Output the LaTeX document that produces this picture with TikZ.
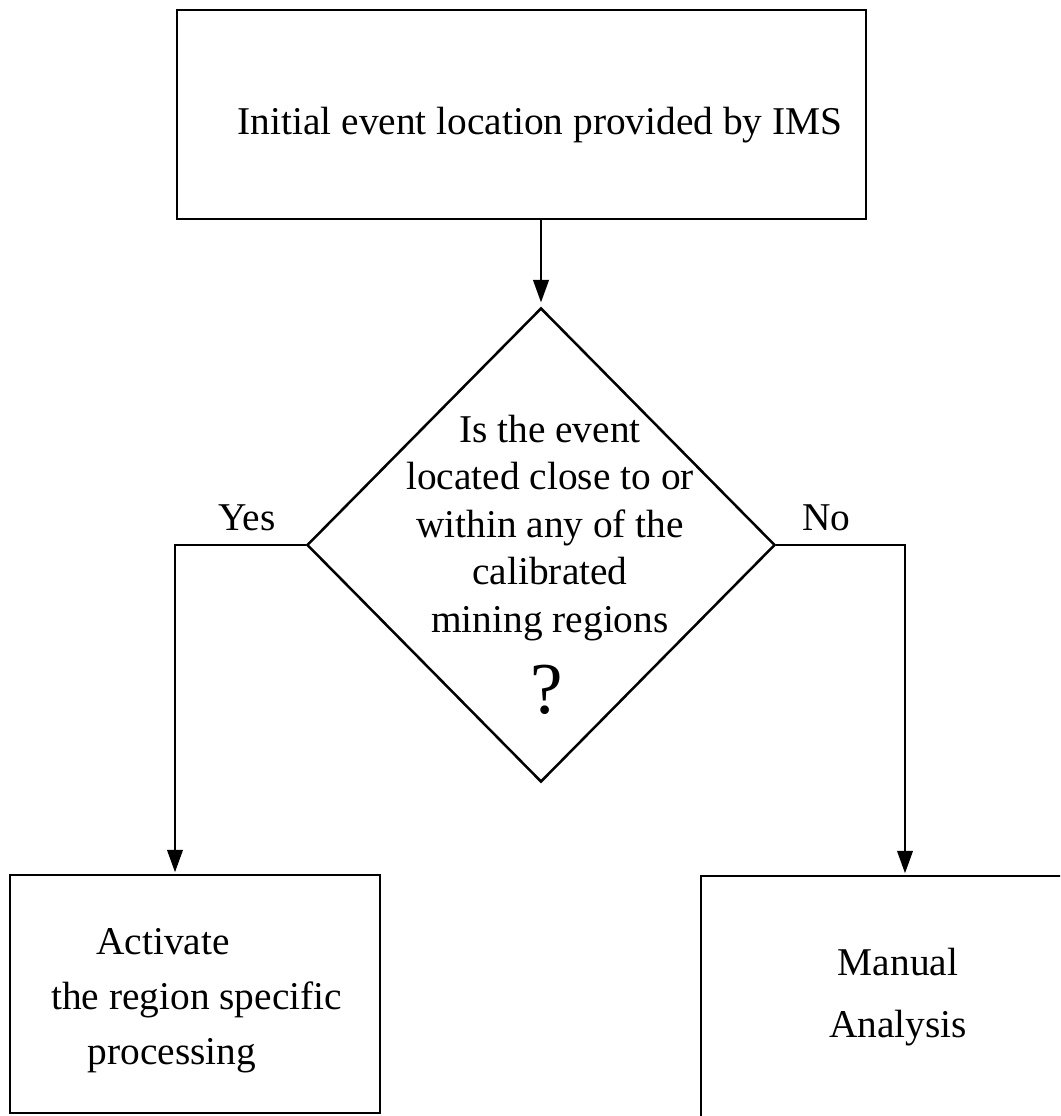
\documentclass[tikz,border=0pt]{standalone}
\usepackage{fontspec}
\setmainfont{Liberation Serif}
\usetikzlibrary{shapes,arrows.meta}

\begin{document}
\begin{tikzpicture}[x=0.025cm,y=-0.025cm,->,>={Triangle[length=16pt,width=11pt]},shorten >=1pt,line width=1.8pt]
\tikzstyle{box} = [rectangle, draw, inner sep=0pt]
\tikzstyle{decision} = [diamond, draw, inner sep=0pt, minimum width=11.7cm, minimum height=11.85cm]
\tikzstyle{txt} = [inner sep=0pt, font=\fontsize{28}{33.8}\selectfont]
\tikzstyle{answer} = [inner sep=0pt, font=\fontsize{28}{33.8}\selectfont, above=9pt]
\useasboundingbox (0,0) rectangle (1060,1116);
\clip (0,0) rectangle (1060,1116);
% boxes
\node[box, minimum width=17.225cm, minimum height=5.225cm] (init) at (521.5,114.5) {};
\node[decision] (cond) at (541,545) {};
\node[box, minimum width=9.25cm, minimum height=5.95cm] (act) at (195,994) {};
\node[box, minimum width=10.475cm, minimum height=6.6cm] (man) at (910.5,1008) {};
% texts
\node[txt, anchor=base] (inittext) at (540,135) {Initial event location provided by IMS};
\node[txt, align=center] (condtext) at (550,528) {Is the event\\located close to or\\within any of the\\calibrated\\mining regions};
\node[inner sep=0pt, font=\fontsize{52}{60}\selectfont] (quest) at (547,690) {?};
\node[txt, align=left, font=\fontsize{28}{39}\selectfont, anchor=west] (acttext) at (50,1001) {\hspace*{32pt}Activate\\the region specific\\\hspace*{26pt}processing};
\node[txt, align=center, font=\fontsize{28}{44}\selectfont] (mantext) at (898,997) {Manual\\Analysis};
% connectors
\coordinate (yes) at (175,545);
\coordinate (no) at (905,545);
\draw[shorten >=3pt] (cond.north |- init.south) -- (cond.north);
\draw (cond.west) -- node[answer, pos=0.45] (yeslabel) {Yes} (yes) -- (yes |- act.north);
\draw (cond.east) -- node[answer, pos=0.39] (nolabel) {No} (no) -- (no |- man.north);
\end{tikzpicture}
\end{document}
